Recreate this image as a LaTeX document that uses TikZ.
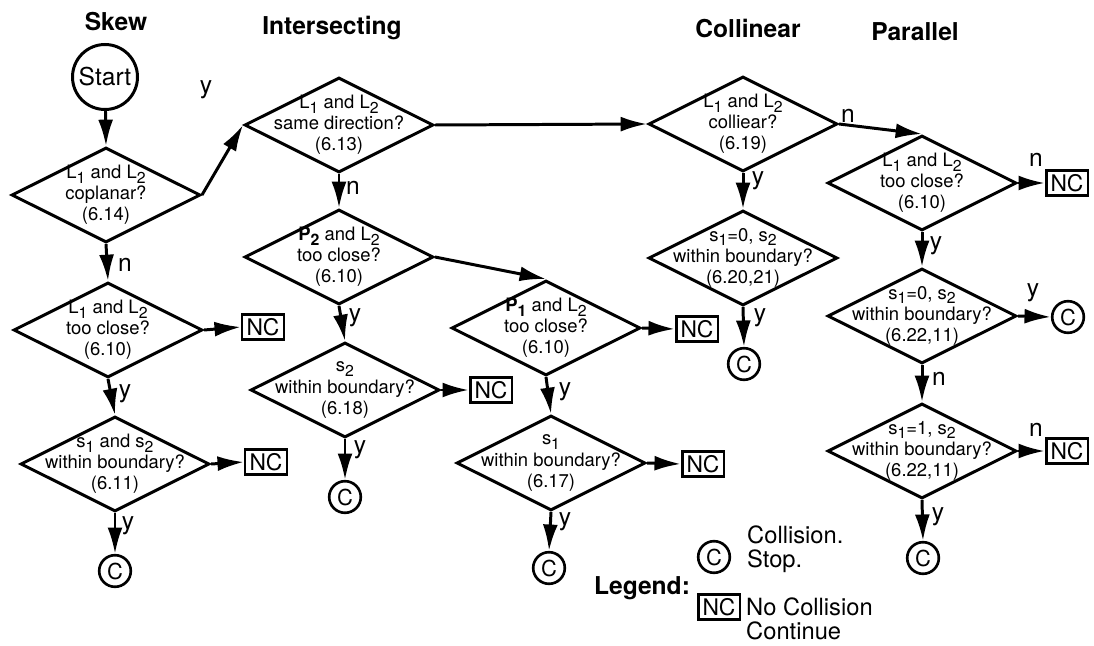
\documentclass[tikz,border=0pt]{standalone}
\usepackage{fontspec}
\setmainfont{TeX Gyre Heros}
\usetikzlibrary{arrows.meta,shapes.geometric}
\newcommand\lsub[1]{\raisebox{-0.45ex}{\fontsize{9}{9}\selectfont #1}}

\begin{document}
\begin{tikzpicture}[x=0.02cm,y=-0.02cm]
    \tikzset { decision/.style = { shape=diamond,draw,line width=1.7pt,minimum width=3.78cm,minimum height=1.9cm,inner sep=0pt } }
    \tikzset { dtext/.style = { align=center,font=\fontsize{10.5}{12}\selectfont } }
    \tikzset { collide/.style = { shape=circle,draw,line width=1.5pt,minimum size=18pt,inner sep=0pt,font=\fontsize{12.5}{14}\selectfont } }
    \tikzset { nocol/.style = { shape=rectangle,draw,line width=1.5pt,inner xsep=2.5pt,inner ysep=2pt,font=\fontsize{13}{14}\selectfont } }
    \tikzset { yn/.style = { font=\fontsize{14}{15}\selectfont,inner sep=1pt } }
    \tikzset { title/.style = { font=\fontsize{14}{16}\selectfont\bfseries } }
    \tikzset { edge/.style = { -{Latex[length=15pt,width=8.5pt]},line width=1.7pt } }

    \useasboundingbox (0,0) rectangle (1094,645);

    % column titles
    \node[title] (tskew) at (116,22) {Skew};
    \node[title] (tinter) at (332,28) {Intersecting};
    \node[title] (tcolli) at (748,28) {Collinear};
    \node[title] (tpara) at (915,32) {Parallel};

    % skew
    \node (start) [shape=circle,draw,line width=1.7pt,minimum size=37pt,inner sep=0pt,font=\fontsize{14}{15}\selectfont] at (105,77) {Start};
    \node[decision, label={[dtext]center:{L\lsub{1} and L\lsub{2}\\coplanar?\\(6.14)}}] (cop) at (106,195) {};
    \node[decision, label={[dtext]center:{L\lsub{1} and L\lsub{2}\\too close?\\(6.10)}}] (skclose) at (108,330) {};
    \node[decision, label={[dtext]center:{s\lsub{1} and s\lsub{2}\\within boundary?\\(6.11)}}] (skbound) at (115,464) {};
    \node[nocol] (skclosenc) at (263,327) {NC};
    \node[nocol] (skboundnc) at (266,462) {NC};
    \node[collide] (skc) at (115,571) {C};

    % intersecting
    \node[decision, label={[dtext]center:{L\lsub{1} and L\lsub{2}\\same direction?\\(6.13)}}] (samedir) at (339,125) {};
    \node[decision, label={[dtext]center:{\textbf{P\lsub{2}} and L\lsub{2}\\too close?\\(6.10)}}] (ptwo) at (339,257) {};
    \node[decision, label={[dtext]center:{s\lsub{2}\\within boundary?\\(6.18)}}] (stwo) at (345,390) {};
    \node[nocol] (stwonc) at (491,390) {NC};
    \node[collide] (stwoc) at (345,497) {C};
    \node[decision, label={[dtext]center:{\textbf{P\lsub{1}} and L\lsub{2}\\too close?\\(6.10)}}] (pone) at (546,328) {};
    \node[nocol] (ponenc) at (697,329) {NC};
    \node[decision, label={[dtext]center:{s\lsub{1}\\within boundary?\\(6.17)}}] (sone) at (551,463) {};
    \node[nocol] (sonenc) at (703,464) {NC};
    \node[collide] (sonec) at (549,568) {C};

    % collinear
    \node[decision, label={[dtext]center:{L\lsub{1} and L\lsub{2}\\colliear?\\(6.19)}}] (colli) at (743,124) {};
    \node[decision, label={[dtext]center:{s\lsub{1}=0, s\lsub{2}\\within boundary?\\(6.20,21)}}] (colbound) at (743,258) {};
    \node[collide] (colc) at (744,364) {C};

    % parallel
    \node[decision, label={[dtext]center:{L\lsub{1} and L\lsub{2}\\too close?\\(6.10)}}] (parclose) at (922,183) {};
    \node[nocol] (parclosenc) at (1067,183) {NC};
    \node[decision, label={[dtext]center:{s\lsub{1}=0, s\lsub{2}\\within boundary?\\(6.22,11)}}] (parzero) at (922,316) {};
    \node[collide] (parzeroc) at (1068,317) {C};
    \node[decision, label={[dtext]center:{s\lsub{1}=1, s\lsub{2}\\within boundary?\\(6.22,11)}}] (parone) at (922,451) {};
    \node[nocol] (paronenc) at (1067,451) {NC};
    \node[collide] (paronec) at (923,558) {C};

    % legend
    \node[font=\fontsize{14}{15}\selectfont\bfseries] (legend) at (642,588) {Legend:};
    \node[collide] (legc) at (714,557) {C};
    \node[anchor=west,align=left,font=\fontsize{13.5}{13.5}\selectfont] (legctext) at (741,549) {Collision.\\Stop.};
    \node[nocol] (legnc) at (719,607) {NC};
    \node[anchor=west,align=left,font=\fontsize{13.5}{13.5}\selectfont] (legnctext) at (740,619) {No Collision\\Continue};

    % y / n labels
    \node[yn] (ycop) at (206,90) {y};
    \node[yn] (ncop) at (125,265) {n};
    \node[yn] (yskclose) at (125,394) {y};
    \node[yn] (yskbound) at (128,526) {y};
    \node[yn] (nsamedir) at (353,188) {n};
    \node[yn] (yptwo) at (355,318) {y};
    \node[yn] (ystwo) at (360,450) {y};
    \node[yn] (ypone) at (565,392) {y};
    \node[yn] (ysone) at (565,522) {y};
    \node[yn] (ycolli) at (758,181) {y};
    \node[yn] (ycolbound) at (760,318) {y};
    \node[yn] (ncolli) at (848,116) {n};
    \node[yn] (nparclose) at (1036,160) {n};
    \node[yn] (yparclose) at (936,246) {y};
    \node[yn] (yparzero) at (1033,293) {y};
    \node[yn] (nparzero) at (939,379) {n};
    \node[yn] (nparone) at (1036,430) {n};
    \node[yn] (yparone) at (938,517) {y};

    % connectors
    \draw[edge] (start) to (cop.north);
    \draw[edge] (cop.east) to (samedir.west);
    \draw[edge] (cop.south) to (skclose.north);
    \draw[edge] (skclose.east) to (skclosenc.west);
    \draw[edge] (skclose.south) to (skbound.north);
    \draw[edge] (skbound.east) to (skboundnc.west);
    \draw[edge] (skbound.south) to (skc.north);

    \draw[edge] (samedir.east) to (colli.west);
    \draw[edge] (samedir.south) to (ptwo.north);
    \draw[edge] (ptwo.east) to (pone.north);
    \draw[edge] (ptwo.south) to (stwo.north);
    \draw[edge] (stwo.east) to (stwonc.west);
    \draw[edge] (stwo.south) to (stwoc.north);
    \draw[edge] (pone.east) to (ponenc.west);
    \draw[edge] (pone.south) to (sone.north);
    \draw[edge] (sone.east) to (sonenc.west);
    \draw[edge] (sone.south) to (sonec.north);

    \draw[edge] (colli.south) to (colbound.north);
    \draw[edge] (colbound.south) to (colc.north);
    \draw[edge] (colli.east) to (parclose.north);

    \draw[edge] (parclose.east) to (parclosenc.west);
    \draw[edge] (parclose.south) to (parzero.north);
    \draw[edge] (parzero.east) to (parzeroc.west);
    \draw[edge] (parzero.south) to (parone.north);
    \draw[edge] (parone.east) to (paronenc.west);
    \draw[edge] (parone.south) to (paronec.north);

\end{tikzpicture}
\end{document}
